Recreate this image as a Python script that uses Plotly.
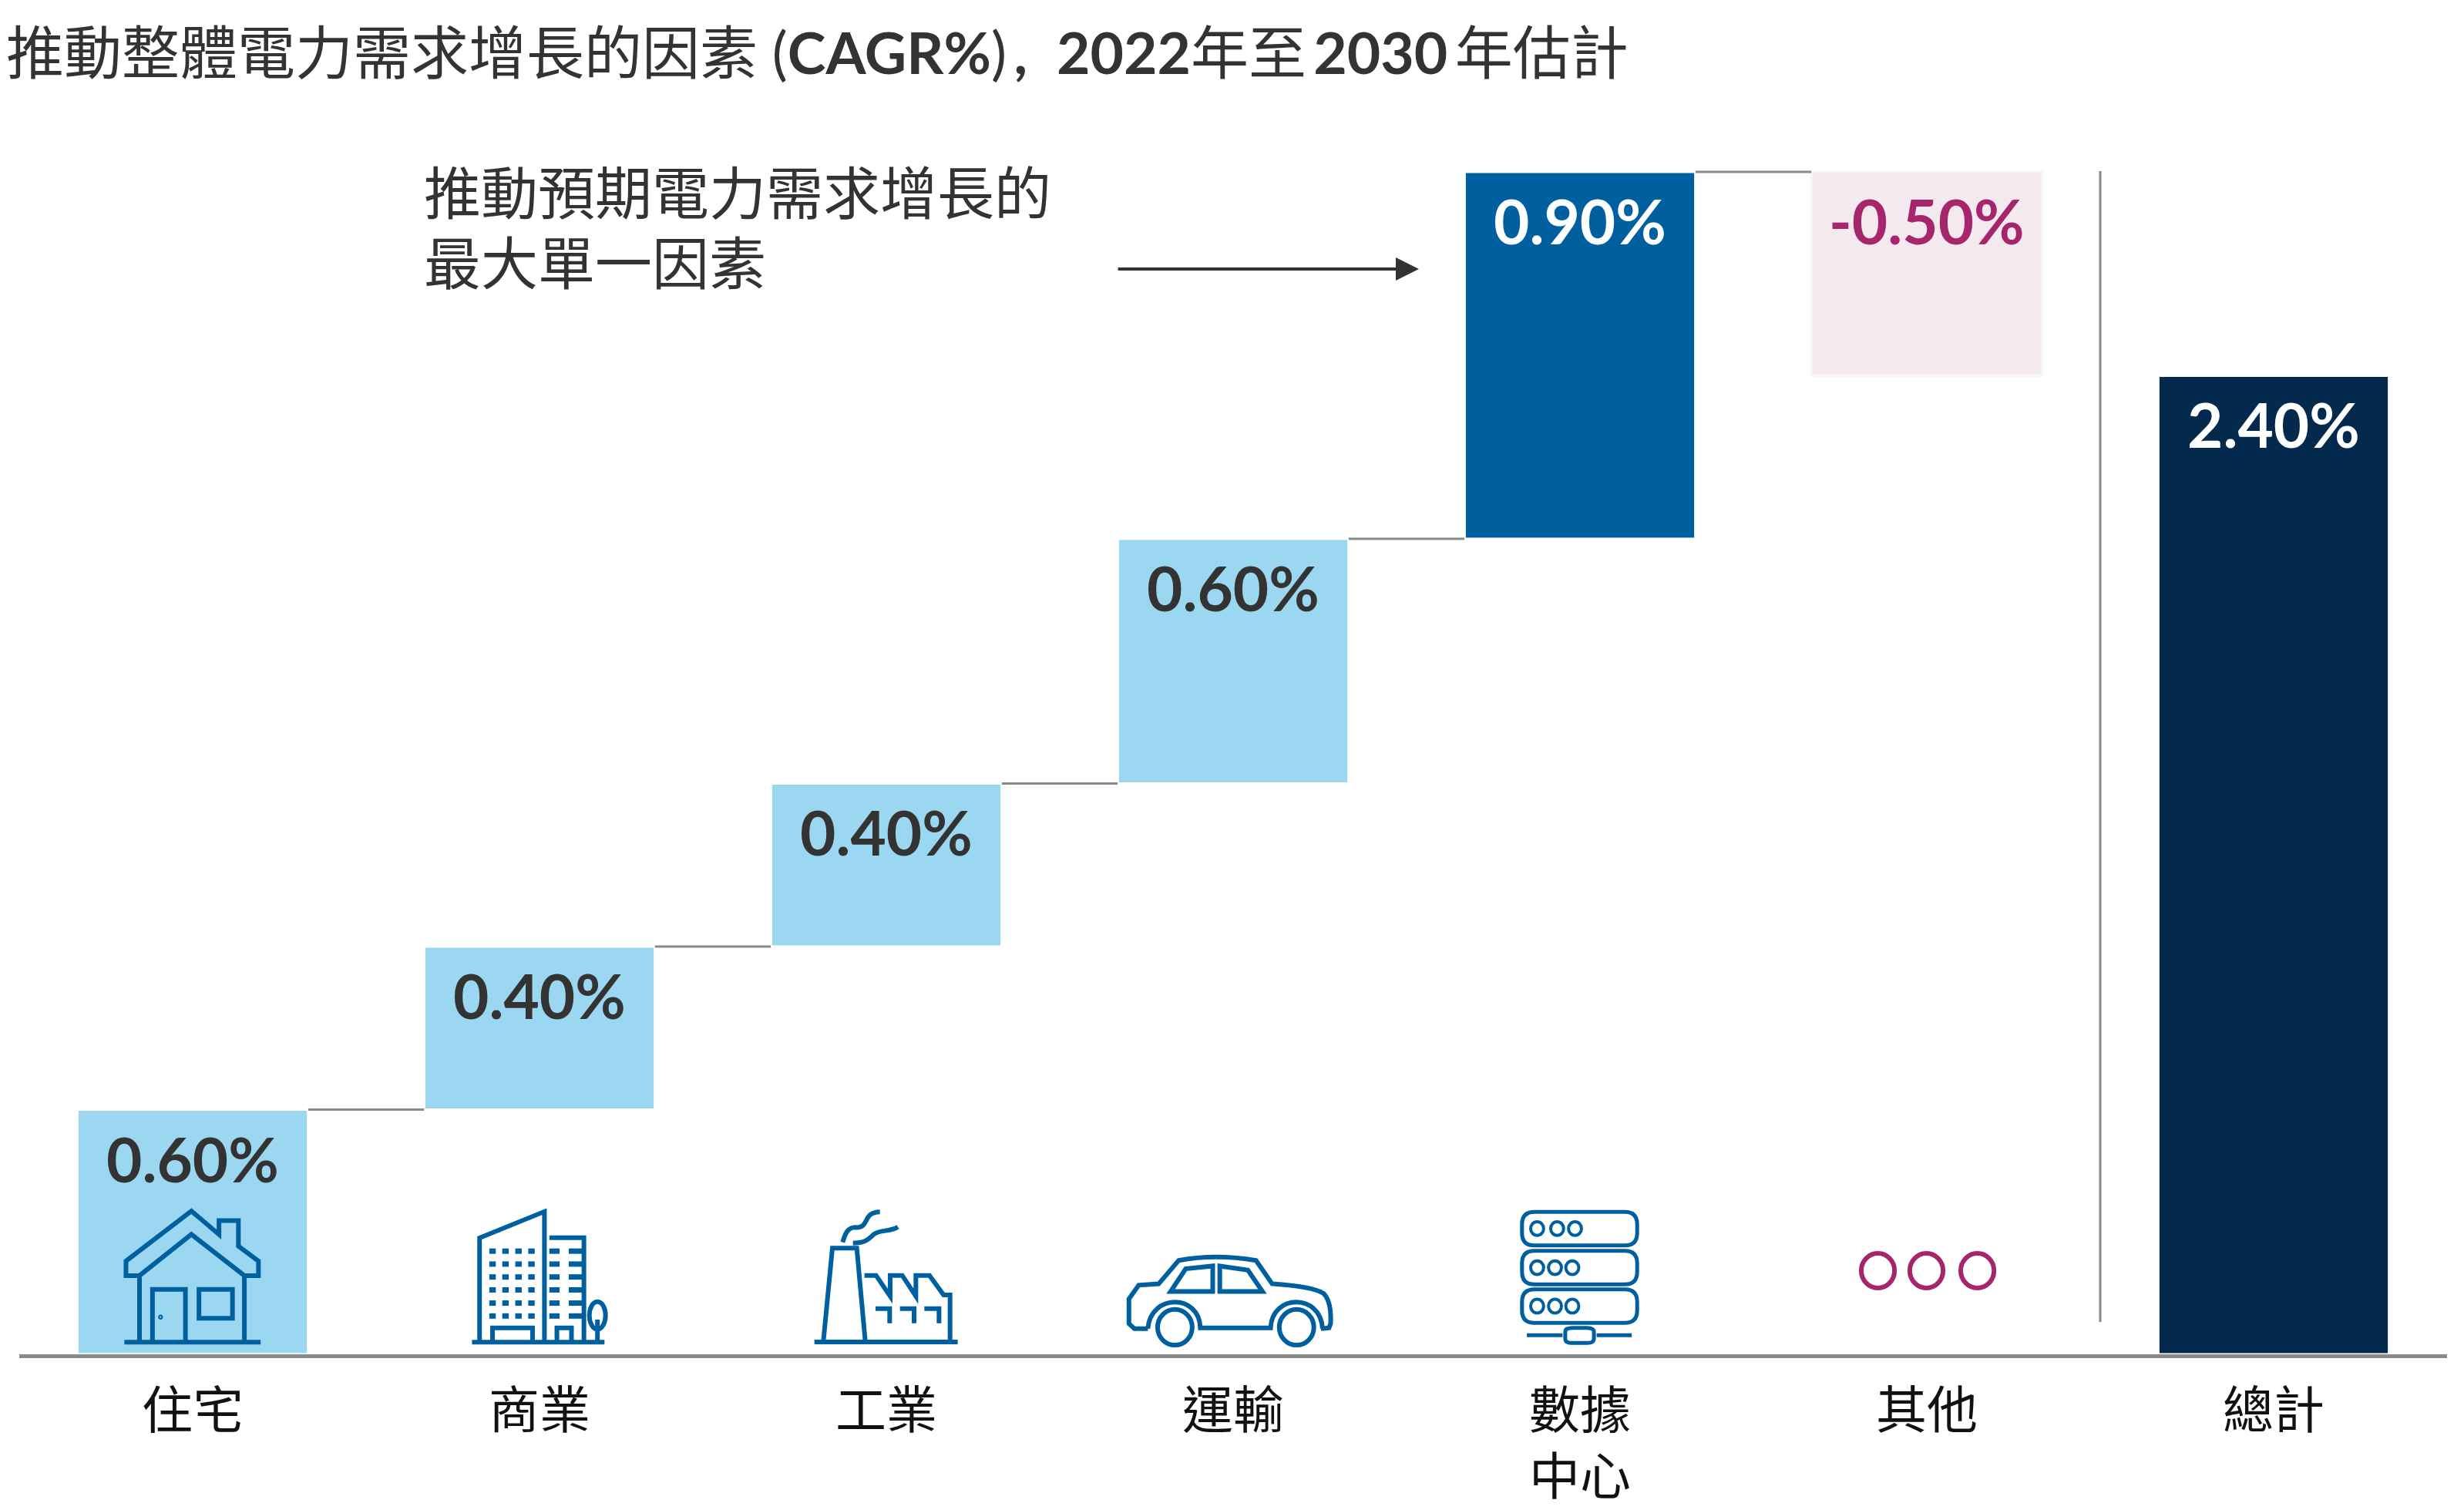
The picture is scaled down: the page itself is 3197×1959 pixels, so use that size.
import re
import plotly.graph_objects as go

# Datos del gráfico
categories = ["住宅", "商業", "工業", "運輸", "數據<br>中心", "其他", "總計"]
changes = [0.6, 0.4, 0.4, 0.6, 0.9, -0.5]
total = 2.4
value_labels = ["0.60%", "0.40%", "0.40%", "0.60%", "0.90%", "-0.50%", "2.40%"]
bar_colors = ["#9BD7F1", "#9BD7F1", "#9BD7F1", "#9BD7F1", "#00609F", "#F5E9F0", "#03294C"]
edge_colors = ["#FFFFFF", "#FFFFFF", "#FFFFFF", "#FFFFFF", "#FFFFFF", "#F7F6F6", "#FFFFFF"]
label_colors = ["#333333", "#333333", "#333333", "#333333", "#FFFFFF", "#A6266E", "#FFFFFF"]

TITLE = ("推動整體電力需求增長的因素\u2009\u2009(<b>CAGR%</b>)\u2009<b>,</b>\u2009\u2009 "
         "<b>2022</b>年至\u2009<b>2030</b>\u2009年估計")
NOTE_LINES = ["推動預期電力需求增長的", "最大單一因素"]

FONT_CJK = "Lato, 'Noto Sans CJK TC', sans-serif"
BLUE = "#00609F"
MAGENTA = "#A6266E"
GREY = "#8A8A8A"

# Área del gráfico en píxeles
WIDTH, HEIGHT = 3197, 1959
LEFT, RIGHT, TOP, BOTTOM = 25, 3175, 66, 1757
PX_PER_UNIT = 529


def paper(px, py):
    return (px - LEFT) / (RIGHT - LEFT), (BOTTOM - py) / (BOTTOM - TOP)


def icon_path(path, color, width, x0, sx, y0, sy):
    # El trazado viene en coordenadas del icono; se pasa a coordenadas "paper"
    coords = [float(n) for n in re.findall(r"-?\d+\.?\d*", path)]
    parts = re.split(r"-?\d+\.?\d*", path)
    xy = []
    for i in range(0, len(coords), 2):
        xy.extend(paper(x0 + coords[i] / sx, y0 + coords[i + 1] / sy))
    out = []
    for i, part in enumerate(parts):
        out.append(part)
        if i < len(xy):
            out.append(f"{xy[i]:.5f}")
    return dict(type="path", path="".join(out), xref="paper", yref="paper",
                line=dict(color=color, width=width))


def icon_ellipse(cx, cy, rx, ry, color, width, x0, sx, y0, sy):
    x_a, y_a = paper(x0 + (cx - rx) / sx, y0 + (cy + ry) / sy)
    x_b, y_b = paper(x0 + (cx + rx) / sx, y0 + (cy - ry) / sy)
    return dict(type="circle", xref="paper", yref="paper", x0=x_a, y0=y_a, x1=x_b, y1=y_b,
                line=dict(color=color, width=width))


# Base de cada barra a partir de los cambios acumulados
bases, levels = [], []
running = 0
for change in changes:
    bases.append(running if change > 0 else running + change)
    running += change
    levels.append(running)
bar_bases = bases + [0]
bar_heights = [abs(c) for c in changes] + [total]
x_pos = list(range(len(categories)))
tops = [b + h for b, h in zip(bar_bases, bar_heights)]

fig = go.Figure()
fig.add_trace(go.Bar(
    x=x_pos, y=bar_heights, base=bar_bases, width=0.665,
    marker=dict(color=bar_colors, line=dict(color=edge_colors, width=3)),
    hoverinfo="skip",
))

shapes = []
annotations = []

# Conectores entre barras
for i, level in enumerate(levels[:5]):
    shapes.append(dict(type="line", xref="x", yref="y", x0=i + 0.333, x1=i + 0.667,
                       y0=level, y1=level, line=dict(color=GREY, width=3)))

# Línea vertical antes del total
div_x0, div_y0 = paper(2725, 222)
div_x1, div_y1 = paper(2725, 1715)
shapes.append(dict(type="line", xref="paper", yref="paper", x0=div_x0, x1=div_x1,
                   y0=div_y0, y1=div_y1, line=dict(color=GREY, width=3)))

# Casa
Z1 = dict(x0=0, sx=1.4255, y0=1400, sy=2.805)
for p in [
    "M 233 715 L 233 662 L 354 480 L 405 565 L 405 515 L 441 515 L 441 608 L 478 662 "
    "L 478 715 L 452 715 L 354 565 L 258 715 Z",
    "M 258 715 L 258 955", "M 452 715 L 452 955",
    "M 282 955 L 282 765 L 343 765 L 343 955",
    "M 368 765 L 430 765 L 430 870 L 368 870 Z",
    "M 230 957 L 482 957",
]:
    shapes.append(icon_path(p, BLUE, 6, **Z1))
shapes.append(icon_ellipse(297, 866, 3, 6, BLUE, 2, **Z1))

# Edificio
for p in [
    "M 887 955 L 887 578 L 1007 482 L 1007 955",
    "M 1016 577 L 1080 577 L 1080 955",
    "M 911 955 L 911 905 L 985 905 L 985 955",
    "M 1030 955 L 1030 905 L 1057 905 L 1057 955",
    "M 1105 875 L 1105 955",
    "M 873 957 L 1118 957",
]:
    shapes.append(icon_path(p, BLUE, 6, **Z1))
shapes.append(icon_ellipse(1105, 860, 15, 50, BLUE, 6, **Z1))
for fy in [626, 673, 720, 767, 815, 862]:
    for fx in [911, 935, 959, 983]:
        shapes.append(icon_path(f"M {fx - 6} {fy} L {fx + 6} {fy}", BLUE, 7, **Z1))
    shapes.append(icon_path(f"M 1016 {fy} L 1035 {fy}", BLUE, 7, **Z1))
    shapes.append(icon_path(f"M 1052 {fy} L 1082 {fy}", BLUE, 7, **Z1))

# Fábrica
Z5 = dict(x0=1040, sx=3, y0=1560, sy=3)
for p in [
    "M 160 155 C 170 120 180 97 210 97 C 250 100 245 70 265 50 C 280 38 295 37 305 37",
    "M 200 158 C 240 158 255 150 280 125 C 305 105 345 115 375 95",
    "M 85 540 L 120 178 L 215 178 L 248 540",
    "M 245 284 L 290 284 L 345 365 L 345 284 L 392 284 L 445 365 L 445 284 L 498 284 "
    "L 553 360 L 578 360 L 578 540",
    "M 288 413 L 343 413 L 343 470", "M 383 413 L 438 413 L 438 470",
    "M 478 413 L 535 413 L 535 470",
    "M 50 543 L 608 543",
]:
    shapes.append(icon_path(p, BLUE, 6, **Z5))

# Coche
Z2 = dict(x0=1100, sx=1.4255, y0=1400, sy=2.805)
for p in [
    "M 555 908 L 530 908 L 520 890 L 520 800 L 538 750 L 575 745 L 612 660 Q 680 635 755 660 "
    "L 785 745 Q 860 755 880 780 Q 895 810 893 890 L 890 905 L 875 908",
    "M 555 908 C 560 780 650 780 652 905 L 782 905 C 785 780 875 780 878 908",
    "M 597 773 L 625 690 L 675 680 L 675 773 Z",
    "M 688 680 L 740 695 L 767 773 L 688 773 Z",
]:
    shapes.append(icon_path(p, BLUE, 6, **Z2))
shapes.append(icon_ellipse(605, 903, 32, 65, BLUE, 6, **Z2))
shapes.append(icon_ellipse(830, 903, 32, 65, BLUE, 6, **Z2))

# Servidor
for top, bot, dots in [(483, 605, [1275, 1312, 1345]), (625, 747, [1275, 1308, 1340]),
                       (765, 887, [1275, 1308, 1340])]:
    p = (f"M 1270 {top} L 1437 {top} Q 1460 {top} 1460 {top + 45} L 1460 {bot - 45} "
         f"Q 1460 {bot} 1437 {bot} L 1270 {bot} Q 1247 {bot} 1247 {bot - 45} "
         f"L 1247 {top + 45} Q 1247 {top} 1270 {top} Z")
    shapes.append(icon_path(p, BLUE, 5, **Z2))
    for dx in dots:
        shapes.append(icon_ellipse(dx, (top + bot) / 2, 12, 25, BLUE, 4, **Z2))
for p in [
    "M 1256 932 L 1322 932", "M 1385 932 L 1450 932",
    "M 1340 905 L 1367 905 Q 1380 905 1380 920 L 1380 945 Q 1380 960 1367 960 L 1340 960 "
    "Q 1327 960 1327 945 L 1327 920 Q 1327 905 1340 905 Z",
]:
    shapes.append(icon_path(p, BLUE, 5, **Z2))

# Tres círculos de "其他"
Z4 = dict(x0=2200, sx=1.5727, y0=1400, sy=2.805)
for cx in [372, 471, 575]:
    shapes.append(icon_ellipse(cx, 697, 34, 63, MAGENTA, 6, **Z4))

# Etiquetas de valor dentro de las barras
for i, text in enumerate(value_labels):
    annotations.append(dict(x=x_pos[i], y=tops[i], xref="x", yref="y", text=f"<b>{text}</b>",
                            showarrow=False, yanchor="middle", yshift=-63,
                            font=dict(family="Lato", size=80, color=label_colors[i])))

# Título y nota
tx, ty = paper(6, 67)
annotations.append(dict(x=tx, y=ty, xref="paper", yref="paper", text=TITLE, showarrow=False,
                        xanchor="left", yanchor="middle",
                        font=dict(family=FONT_CJK, size=75, color="#333333")))
for line, py in zip(NOTE_LINES, [250, 340]):
    nx, ny = paper(548, py)
    annotations.append(dict(x=nx, y=ny, xref="paper", yref="paper", text=line, showarrow=False,
                            xanchor="left", yanchor="middle",
                            font=dict(family=FONT_CJK, size=74, color="#333333")))

# Flecha hacia la barra de centros de datos
ax_x, ax_y = paper(1841, 349)
annotations.append(dict(x=ax_x, y=ax_y, xref="paper", yref="paper", text="", showarrow=True,
                        ax=-392, ay=0, arrowcolor="#333333", arrowwidth=4, arrowhead=2,
                        arrowsize=1.5))

fig.update_layout(
    width=WIDTH, height=HEIGHT,
    margin=dict(l=LEFT, r=WIDTH - RIGHT, t=TOP, b=HEIGHT - BOTTOM),
    plot_bgcolor="white", paper_bgcolor="white",
    showlegend=False,
    shapes=shapes, annotations=annotations,
    font=dict(family=FONT_CJK),
)
fig.update_xaxes(
    tickmode="array", tickvals=x_pos, ticktext=categories, range=[-0.5, 6.5],
    showgrid=False, zeroline=False, showline=True, linecolor=GREY, linewidth=5,
    ticks="outside", ticklen=12, tickcolor="rgba(0,0,0,0)", automargin=False,
    tickfont=dict(family="'Noto Sans CJK TC'", size=66, color="#111111"),
)
fig.update_yaxes(range=[0, (BOTTOM - TOP) / PX_PER_UNIT], visible=False, automargin=False)

fig.write_html("out.html", config={"displayModeBar": False},
               post_script="document.body.style.margin='0';")
